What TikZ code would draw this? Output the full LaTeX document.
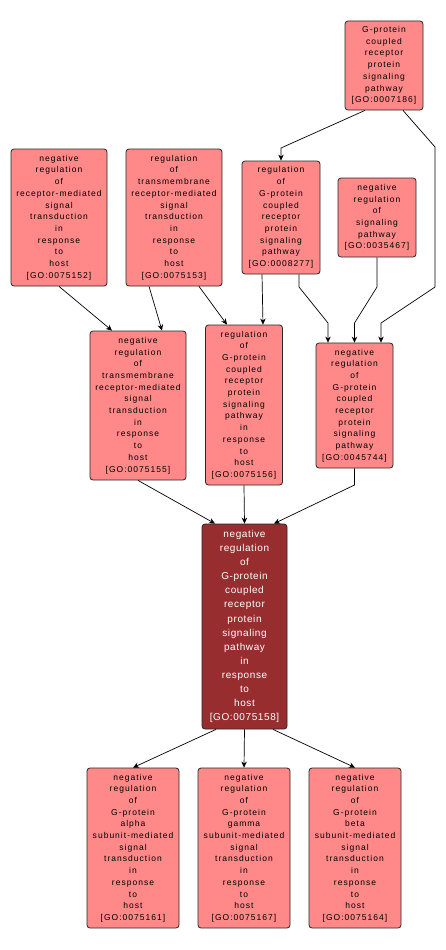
\documentclass[tikz,border=0pt]{standalone}
\usepackage{fontspec}
\setmainfont{Liberation Sans}
\newfontfamily\gofont[LetterSpace=12]{Liberation Sans}
\newfontfamily\gohitfont[LetterSpace=6]{Liberation Sans}
\usetikzlibrary{arrows.meta}
\definecolor{golight}{RGB}{255,137,137}
\definecolor{godark}{RGB}{152,45,48}
\tikzset{
	term/.style={draw=black!85, line width=0.8pt, fill=golight, rounded corners=3pt, align=center, inner sep=0pt, font={\gofont\fontsize{8.5}{11.7}\selectfont}},
	hit/.style={term, fill=godark, text=white, font={\gohitfont\fontsize{10}{14.1}\selectfont}},
	arr/.style={-{Stealth[length=6pt,width=5.5pt]}, line width=0.7pt, black}
}
\begin{document}
\begin{tikzpicture}[x=1pt, y=-1pt]
			\useasboundingbox (0,0) rectangle (445,950);
			\node[term, minimum width=78pt, minimum height=89pt] (n7186) at (384,65.5) {G-protein\\coupled\\receptor\\protein\\signaling\\pathway\\{[GO:0007186]}};
			\node[term, minimum width=96pt, minimum height=137pt] (n5152) at (59,217.5) {negative\\regulation\\of\\receptor-mediated\\signal\\transduction\\in\\response\\to\\host\\{[GO:0075152]}};
			\node[term, minimum width=96pt, minimum height=137pt] (n5153) at (174,217.5) {regulation\\of\\transmembrane\\receptor-mediated\\signal\\transduction\\in\\response\\to\\host\\{[GO:0075153]}};
			\node[term, minimum width=78pt, minimum height=113pt] (n8277) at (281,217.5) {regulation\\of\\G-protein\\coupled\\receptor\\protein\\signaling\\pathway\\{[GO:0008277]}};
			\node[term, minimum width=78pt, minimum height=79pt] (n5467) at (377,217.5) {negative\\regulation\\of\\signaling\\pathway\\{[GO:0035467]}};
			\node[term, minimum width=96pt, minimum height=149pt] (n5155) at (138,405.5) {negative\\regulation\\of\\transmembrane\\receptor-mediated\\signal\\transduction\\in\\response\\to\\host\\{[GO:0075155]}};
			\node[term, minimum width=77pt, minimum height=160pt] (n5156) at (244,405) {regulation\\of\\G-protein\\coupled\\receptor\\protein\\signaling\\pathway\\in\\response\\to\\host\\{[GO:0075156]}};
			\node[term, minimum width=77pt, minimum height=125pt] (n5744) at (354.5,405.5) {negative\\regulation\\of\\G-protein\\coupled\\receptor\\protein\\signaling\\pathway\\{[GO:0045744]}};
			\node[hit, minimum width=85pt, minimum height=205pt] (n5158) at (244.5,626.5) {negative\\regulation\\of\\G-protein\\coupled\\receptor\\protein\\signaling\\pathway\\in\\response\\to\\host\\{[GO:0075158]}};
			\node[term, minimum width=92pt, minimum height=160pt] (n5161) at (133,848) {negative\\regulation\\of\\G-protein\\alpha\\subunit-mediated\\signal\\transduction\\in\\response\\to\\host\\{[GO:0075161]}};
			\node[term, minimum width=92pt, minimum height=160pt] (n5167) at (244,848) {negative\\regulation\\of\\G-protein\\gamma\\subunit-mediated\\signal\\transduction\\in\\response\\to\\host\\{[GO:0075167]}};
			\node[term, minimum width=92pt, minimum height=160pt] (n5164) at (355,848) {negative\\regulation\\of\\G-protein\\beta\\subunit-mediated\\signal\\transduction\\in\\response\\to\\host\\{[GO:0075164]}};
			% edges
			\draw[arr] ([xshift=-19pt]n7186.south) -- (281,148) -- (n8277.north);
			\draw[arr] ([xshift=19pt]n7186.south) -- (435,147) -- (435,287) -- (381,323) -- ([xshift=26.5pt]n5744.north);
			\draw[arr] (n5152.south) -- ([xshift=-26pt]n5155.north);
			\draw[arr] ([xshift=-25pt]n5153.south) -- ([xshift=24pt]n5155.north);
			\draw[arr] ([xshift=25pt]n5153.south) -- ([xshift=-17pt]n5156.north);
			\draw[arr] ([xshift=-19pt]n8277.south) -- ([xshift=19pt]n5156.north);
			\draw[arr] ([xshift=18pt]n8277.south) -- (299,287) -- (328,323) -- ([xshift=-26.5pt]n5744.north);
			\draw[arr] (n5467.south) -- (377,287) -- (354.5,323) -- (n5744.north);
			\draw[arr] (n5155.south) -- ([xshift=-29.5pt]n5158.north);
			\draw[arr] (n5156.south) -- (n5158.north);
			\draw[arr] (n5744.south) -- (354.5,485) -- ([xshift=29.5pt]n5158.north);
			\draw[arr] ([xshift=-28.5pt]n5158.south) -- (n5161.north);
			\draw[arr] (n5158.south) -- (n5167.north);
			\draw[arr] ([xshift=28.5pt]n5158.south) -- (n5164.north);
		\end{tikzpicture}
\end{document}
